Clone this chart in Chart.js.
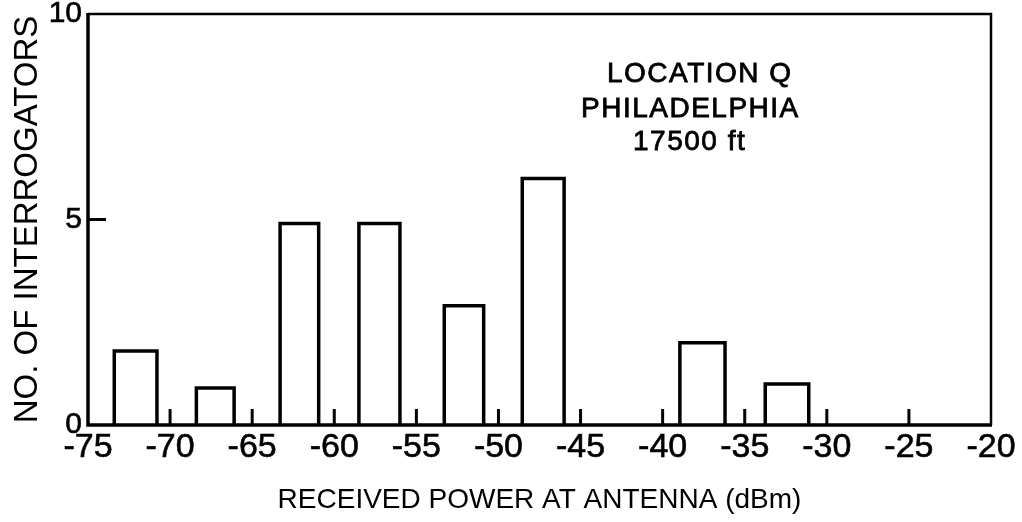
<!DOCTYPE html>
<html><head><meta charset="utf-8">
<script src="https://cdn.jsdelivr.net/npm/chart.js@4/dist/chart.umd.min.js"></script>
<style>html,body{margin:0;padding:0;background:#fff}#wrap{width:1022px;height:522px}</style>
</head><body><div id="wrap"><canvas id="c" width="1022" height="522"></canvas></div>
<script>
// Histogram bins (dBm) and counts
const binStart = [-73.4, -68.4, -63.3, -58.5, -53.3, -48.55, -38.95, -33.75];
const binEnd   = [-70.8, -66.1, -60.95, -56.0, -50.9, -46.0, -36.2, -31.1];
const counts   = [1.8, 0.9, 4.9, 4.9, 2.9, 6.0, 2.0, 1.0];
const xTicks = [-75, -70, -65, -60, -55, -50, -45, -40, -35, -30, -25, -20];
const yTicks = [0, 5, 10];
const noteLines = ['LOCATION Q', 'PHILADELPHIA', '17500 ft'];
const xTitle = 'RECEIVED POWER AT ANTENNA (dBm)';
const yTitle = 'NO. OF INTERROGATORS';

const FONT = '"Liberation Sans", Arial, sans-serif';

const datasets = counts.map((h, i) => ({
  data: [
    {x: binStart[i], y: 0}, {x: binStart[i], y: h},
    {x: binEnd[i], y: h}, {x: binEnd[i], y: 0}
  ],
  borderColor: '#000', borderWidth: 3.5, pointRadius: 0, tension: 0,
  fill: false, showLine: true, borderJoinStyle: 'miter', borderCapStyle: 'butt'
}));

const framePlugin = {
  id: 'frame',
  beforeDraw(chart) {
    const ctx = chart.ctx;
    ctx.save(); ctx.fillStyle = '#fff'; ctx.fillRect(0, 0, chart.width, chart.height); ctx.restore();
  },
  afterDatasetsDraw(chart) {
    const {ctx, chartArea: a, scales: {x, y}} = chart;
    ctx.save();
    ctx.strokeStyle = '#000';
    // frame: heavier axes, lighter top/right
    ctx.lineWidth = 2.5;
    ctx.beginPath(); ctx.moveTo(a.left, a.top); ctx.lineTo(a.right, a.top); ctx.lineTo(a.right, a.bottom); ctx.stroke();
    ctx.lineWidth = 3.5;
    ctx.beginPath(); ctx.moveTo(a.left, a.top - 1); ctx.lineTo(a.left, a.bottom); ctx.lineTo(a.right + 1, a.bottom); ctx.stroke();
    // inner x ticks
    ctx.lineWidth = 3;
    xTicks.forEach(v => {
      if (v === x.min || v === x.max) return;
      const px = x.getPixelForValue(v);
      ctx.beginPath(); ctx.moveTo(px, a.bottom); ctx.lineTo(px, a.bottom - 16); ctx.stroke();
    });
    yTicks.forEach(v => {
      if (v === y.min || v === y.max) return;
      const py = y.getPixelForValue(v);
      ctx.beginPath(); ctx.moveTo(a.left, py); ctx.lineTo(a.left + 18, py); ctx.stroke();
    });
    // note text
    ctx.fillStyle = '#000';
    ctx.font = '28px ' + FONT;
    ctx.letterSpacing = '1.5px';
    ctx.textAlign = 'left';
    ctx.textBaseline = 'alphabetic';
    ctx.lineWidth = 0.8;
    const lx = [607, 581, 633], by = [82, 117, 150];
    noteLines.forEach((t, i) => { ctx.fillText(t, lx[i], by[i]); ctx.strokeText(t, lx[i], by[i]); });
    ctx.restore();
  }
};

function noPad(s) { s.paddingTop = 0; s.paddingBottom = 0; s.paddingLeft = 0; s.paddingRight = 0; }

new Chart(document.getElementById('c'), {
  type: 'scatter',
  data: {datasets},
  options: {
    responsive: false,
    animation: false,
    layout: {padding: {top: 14, right: 31, left: 0, bottom: 0}},
    plugins: {legend: {display: false}, tooltip: {enabled: false}},
    scales: {
      x: {
        type: 'linear', min: -75, max: -20,
        afterBuildTicks: s => { s.ticks = xTicks.map(v => ({value: v})); },
        afterFit: s => { s.height = 97; noPad(s); },
        grid: {display: false, drawTicks: false},
        border: {display: false},
        ticks: {color: '#000', font: {family: FONT, size: 34}, padding: 2, autoSkip: false, maxRotation: 0,
                textStrokeColor: '#000', textStrokeWidth: 0.6,
                callback: v => String(v)},
        title: {display: true, text: xTitle, color: '#000', font: {family: FONT, size: 28}, padding: {top: 0, bottom: 5}}
      },
      y: {
        type: 'linear', min: 0, max: 10,
        afterBuildTicks: s => { s.ticks = yTicks.map(v => ({value: v})); },
        afterFit: s => { s.width = 88; noPad(s); },
        grid: {display: false, drawTicks: false},
        border: {display: false},
        ticks: {color: '#000', font: {family: FONT, size: 30}, padding: 6,
                textStrokeColor: '#000', textStrokeWidth: 0.6},
        title: {display: true, text: yTitle, color: '#000', font: {family: FONT, size: 33}, padding: {top: 8, bottom: 0}}
      }
    }
  },
  plugins: [framePlugin]
});
</script>
</body></html>
